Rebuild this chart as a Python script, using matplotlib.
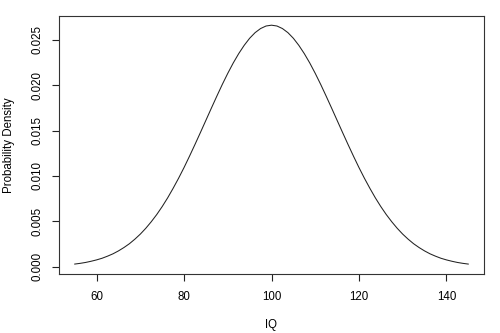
import matplotlib
matplotlib.use("Agg")
import matplotlib.pyplot as plt

plt.rcParams['font.family'] = ['Liberation Sans', 'DejaVu Sans']

# IQ values and the density
iq = [55, 56.25, 57.5, 58.75, 60, 61.25, 62.5, 63.75, 65, 66.25, 67.5, 68.75,
      70, 71.25, 72.5, 73.75, 75, 76.25, 77.5, 78.75, 80, 81.25, 82.5, 83.75,
      85, 86.25, 87.5, 88.75, 90, 91.25, 92.5, 93.75, 95, 96.25, 97.5, 98.75,
      100, 101.25, 102.5, 103.75, 105, 106.25, 107.5, 108.75, 110, 111.25,
      112.5, 113.75, 115, 116.25, 117.5, 118.75, 120, 121.25, 122.5, 123.75,
      125, 126.25, 127.5, 128.75, 130, 131.25, 132.5, 133.75, 135, 136.25,
      137.5, 138.75, 140, 141.25, 142.5, 143.75, 145]
density = [0.00030, 0.00038, 0.00048, 0.00061, 0.00076, 0.00094, 0.00117,
           0.00143, 0.00175, 0.00212, 0.00254, 0.00304, 0.00360, 0.00424,
           0.00496, 0.00575, 0.00663, 0.00759, 0.00864, 0.00975, 0.01093,
           0.01218, 0.01347, 0.01479, 0.01613, 0.01747, 0.01879, 0.02008,
           0.02130, 0.02244, 0.02347, 0.02438, 0.02516, 0.02578, 0.02623,
           0.02651, 0.02660, 0.02651, 0.02623, 0.02578, 0.02516, 0.02438,
           0.02347, 0.02244, 0.02130, 0.02008, 0.01879, 0.01747, 0.01613,
           0.01479, 0.01347, 0.01218, 0.01093, 0.00975, 0.00864, 0.00759,
           0.00663, 0.00575, 0.00496, 0.00424, 0.00360, 0.00304, 0.00254,
           0.00212, 0.00175, 0.00143, 0.00117, 0.00094, 0.00076, 0.00061,
           0.00048, 0.00038, 0.00030]

x_ticks = [60, 80, 100, 120, 140]
y_ticks = [0.000, 0.005, 0.010, 0.015, 0.020, 0.025]
y_labels = ["0.000", "0.005", "0.010", "0.015", "0.020", "0.025"]

fig = plt.figure(figsize=(5, 3.33), dpi=100, facecolor='white')
ax = fig.add_axes([0.118, 0.177, 0.850, 0.776])

ax.plot(iq, density, color='#222222', lw=0.75, solid_joinstyle='round')

ax.set_xlim(51.4, 148.6)
ax.set_ylim(-0.0008, 0.02765)

ax.set_xticks(x_ticks)
ax.set_yticks(y_ticks)
ax.set_yticklabels(y_labels, rotation=90, va='center')

ax.tick_params(direction='out', length=5, width=0.8, colors='#222222',
               labelsize=8.3, labelcolor='black')
ax.tick_params(axis='y', pad=6.5)
ax.tick_params(axis='x', pad=7)

for s in ax.spines.values():
    s.set_color('#333333')
    s.set_linewidth(0.8)

ax.set_xlabel("IQ", fontsize=8.3)
ax.set_ylabel("Probability Density", fontsize=8.3)
ax.xaxis.set_label_coords(0.5, -0.197)
ax.yaxis.set_label_coords(-0.1165, 0.5)
ax.xaxis.label.set_va('center')
ax.yaxis.label.set_va('center')

plt.savefig("out.png", dpi=100)
